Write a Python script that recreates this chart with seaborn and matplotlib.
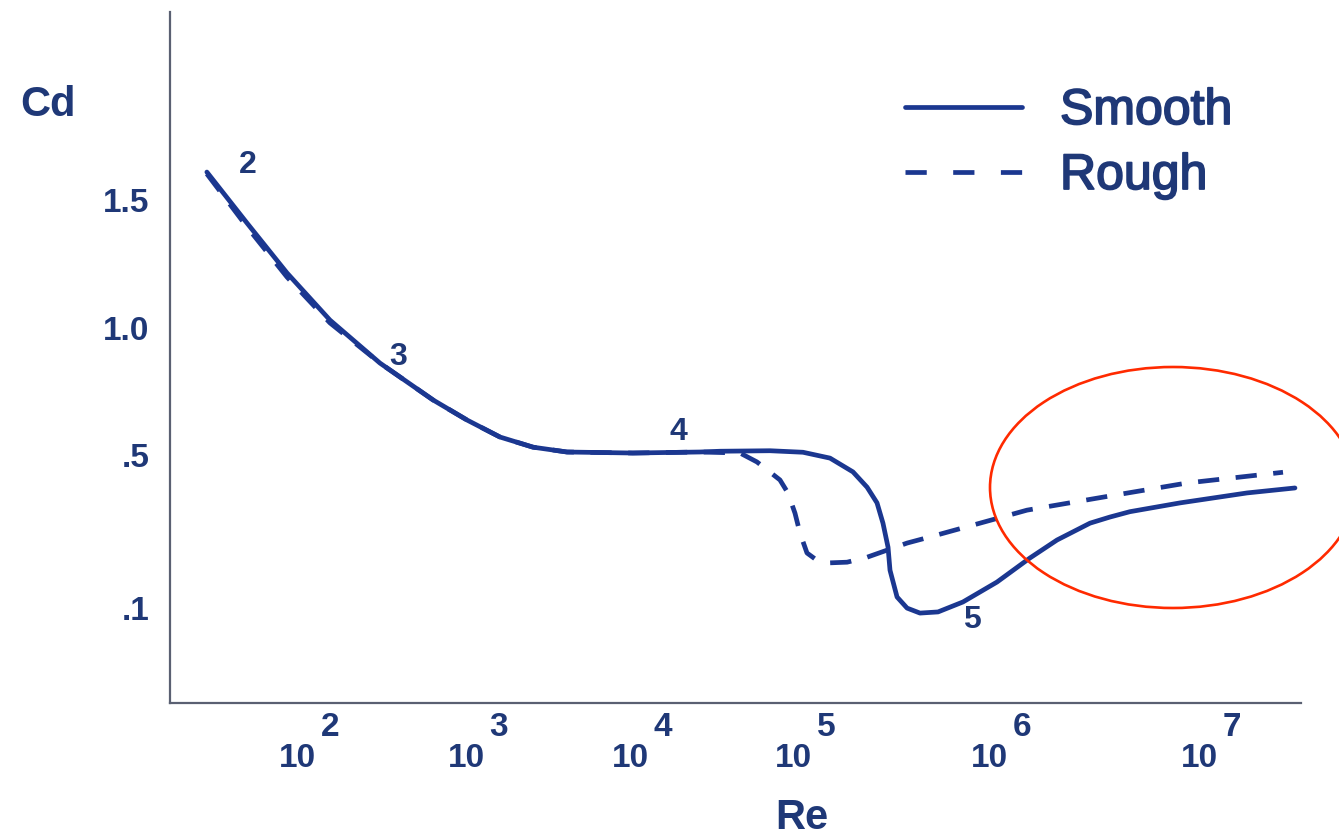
import numpy as np
import matplotlib
matplotlib.use("Agg")
import matplotlib.pyplot as plt
import matplotlib.patheffects as pe
import seaborn as sns
from matplotlib.lines import Line2D
from matplotlib.patches import Ellipse
from matplotlib.ticker import NullLocator
from matplotlib.transforms import blended_transform_factory

# ---------------- data ----------------
smooth_re = [29.3, 50.6, 87.3, 156.7, 309.7, 638, 1014, 1611, 2564, 4130,
             10420, 26850, 35650, 72280, 112500, 154500, 202300, 238800,
             268400, 287800, 305500, 312600, 339600, 382100, 444600,
             549500, 736200, 1.091e6, 1.567e6, 2.109e6, 3.027e6, 3.767e6,
             4.688e6, 8.128e6, 1.694e7, 2.864e7]
smooth_cd = [1.609, 1.410, 1.215, 1.031, 0.862, 0.717, 0.638, 0.571, 0.531,
             0.512, 0.508, 0.512, 0.515, 0.517, 0.511, 0.492, 0.456, 0.416,
             0.375, 0.322, 0.259, 0.199, 0.129, 0.100, 0.087, 0.090, 0.116,
             0.168, 0.231, 0.278, 0.322, 0.338, 0.352, 0.375, 0.401, 0.414]

rough_re = [29.3, 50.6, 87.3, 156.7, 309.7, 638, 1014, 1611, 2564, 4130,
            10420, 26850, 47320, 60120, 83180, 93110, 102400, 108600,
            117900, 132500, 149000, 188800, 238800, 382100, 500000, 899500,
            1.517e6, 3.491e6, 8.770e6, 2.512e7]
rough_cd = [1.602, 1.395, 1.199, 1.020, 0.862, 0.717, 0.638, 0.571, 0.531,
            0.512, 0.508, 0.512, 0.508, 0.482, 0.435, 0.401, 0.348, 0.296,
            0.244, 0.225, 0.218, 0.220, 0.233, 0.270, 0.286, 0.322, 0.356,
            0.390, 0.427, 0.455]

x_exponents = [2, 3, 4, 5, 6, 7]
y_ticks = [0.1, 0.5, 1.0, 1.5]
y_ticklabels = [".1", ".5", "1.0", "1.5"]

region_labels = ["2", "3", "4", "5"]
region_re = [51.3, 396, 19680, 818500]
region_cd = [1.637, 0.886, 0.591, 0.069]

series_names = ["Smooth", "Rough"]

# ---------------- style ----------------
NAVY = "#1b3790"
TEXT = "#1f3877"
DASH = (0, (4.5, 3.5))
sns.set_theme(style="white")
plt.rcParams["font.family"] = ["Liberation Sans", "DejaVu Sans"]

fig = plt.figure(figsize=(13.39, 8.39), dpi=100)
W, H = 1339, 839
ax = fig.add_axes([170 / W, 1 - 703 / H, (1301 - 170) / W, (703 - 12) / H])

sns.lineplot(x=smooth_re, y=smooth_cd, ax=ax, color=NAVY, lw=3.4,
             sort=False, estimator=None, solid_joinstyle="round",
             solid_capstyle="round")
sns.lineplot(x=rough_re, y=rough_cd, ax=ax, color=NAVY, lw=3.4,
             sort=False, estimator=None, linestyle=DASH,
             dash_joinstyle="round")

# schematic (non-uniform) axis scales of the original drawing
LOG_KNOTS = np.array([1, 2, 3, 4, 5, 6, 7, 8.0])
X_POS = np.array([128, 297, 466, 630, 793, 989, 1199, 1409.0])


def fx(v):
    v = np.asarray(v, dtype=float)
    return np.interp(np.log10(np.clip(v, 1e-12, None)), LOG_KNOTS, X_POS)


def fx_inv(u):
    return 10 ** np.interp(np.asarray(u, dtype=float), X_POS, LOG_KNOTS)


CD_KNOTS = np.array([-1, 0.1, 0.5, 1.0, 1.5, 3.0])
Y_POS = np.array([1028.75, 608, 455, 328, 200, -184])


def fy(v):
    return -np.interp(np.asarray(v, dtype=float), CD_KNOTS, Y_POS)


def fy_inv(u):
    return np.interp(np.asarray(u, dtype=float), -Y_POS, CD_KNOTS)


ax.set_xscale("function", functions=(fx, fx_inv))
ax.set_yscale("function", functions=(fy, fy_inv))
ax.set_xlim(17.73, 3.06e7)
ax.set_ylim(-0.148, 2.234)

# ticks
ax.set_xticks([10.0 ** e for e in x_exponents])
ax.set_xticklabels(["10"] * len(x_exponents))
ax.xaxis.set_minor_locator(NullLocator())
ax.set_yticks(y_ticks)
ax.set_yticklabels(y_ticklabels)
ax.yaxis.set_minor_locator(NullLocator())
ax.tick_params(axis="x", length=0, pad=29, labelsize=24, labelcolor=TEXT)
ax.tick_params(axis="y", length=0, pad=15, labelsize=24, labelcolor=TEXT)
for t in ax.get_xticklabels() + ax.get_yticklabels():
    t.set_fontweight("bold")

trans = blended_transform_factory(ax.transData, ax.transAxes)
for e in x_exponents:
    ax.annotate(str(e), xy=(10.0 ** e, 0), xycoords=trans,
                xytext=(33, -25), textcoords="offset pixels",
                ha="center", va="center", fontsize=24, fontweight="bold",
                color=TEXT, annotation_clip=False)

# axis labels
ax.set_ylabel("Cd", rotation=0, fontsize=30, fontweight="bold", color=TEXT,
              ha="center", va="center")
ax.yaxis.set_label_coords((48 - 170) / 1131, (703 - 105) / 691)
ax.set_xlabel("Re", fontsize=30, fontweight="bold", color=TEXT,
              ha="center", va="center")
ax.xaxis.set_label_coords((802 - 170) / 1131, (703 - 818) / 691)

# region numbers
for lab, xr, yc in zip(region_labels, region_re, region_cd):
    ax.text(xr, yc, lab, ha="center", va="center", fontsize=23,
            fontweight="bold", color=TEXT)

# spines
for s in ["top", "right"]:
    ax.spines[s].set_visible(False)
for s in ["left", "bottom"]:
    ax.spines[s].set_color("#5a6072")
    ax.spines[s].set_linewidth(1.6)
ax.grid(False)

# legend
handles = [Line2D([], [], color=NAVY, lw=3.4),
           Line2D([], [], color=NAVY, lw=3.4, linestyle=(0, (4.5, 5.6)))]
leg = ax.legend(handles, series_names, loc="upper left",
                bbox_to_anchor=(905 / W, 1 - 88 / H),
                bbox_transform=fig.transFigure, frameon=False,
                fontsize=36, handlelength=2.35, handletextpad=0.75,
                labelspacing=0.38, borderpad=0, borderaxespad=0)
for t in leg.get_texts():
    t.set_color(TEXT)
    t.set_path_effects([pe.withStroke(linewidth=1.3, foreground=TEXT)])

# red highlight ellipse
fig.add_artist(Ellipse((1173 / W, 1 - 487.5 / H), 366 / W, 241 / H,
                       transform=fig.transFigure, fill=False,
                       ec="#ff2a00", lw=1.9))

fig.savefig("out.png", dpi=100)
